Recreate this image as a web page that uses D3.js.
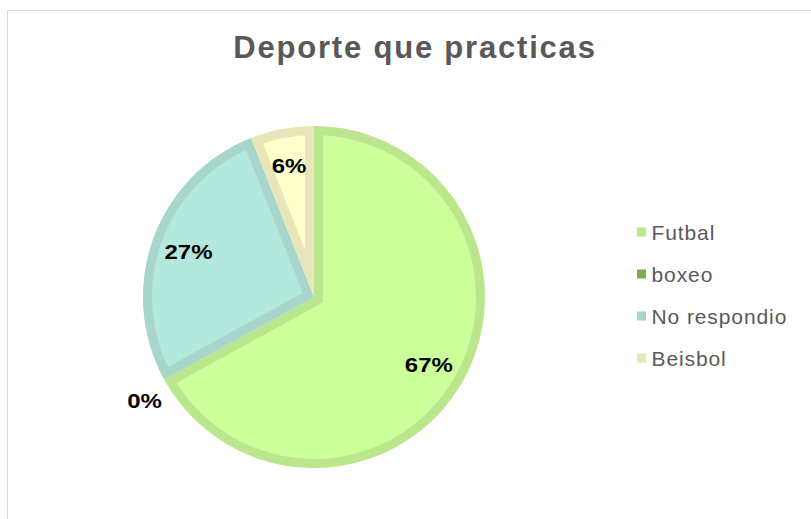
<!DOCTYPE html>
<html>
<head>
<meta charset="utf-8">
<script src="https://cdn.jsdelivr.net/npm/d3@7"></script>
<style>
  html, body { margin: 0; padding: 0; background: #fff; }
  svg { display: block; }
</style>
</head>
<body>
<svg id="chart" width="811" height="519"></svg>
<script>
// Survey results: sport practised
const categories = ["Futbal", "boxeo", "No respondio", "Beisbol"];
const values = [67, 0, 27, 6];
const fills = ["#CCFF99", "#77B050", "#B3E8DC", "#FFFFCC"];
const strokes = ["#BCE68E", "#77B050", "#A8D6CC", "#E8E6B8"];
const legendSwatch = ["#BCE68E", "#77B050", "#A8D6CC", "#E8E6B8"];

const svg = d3.select("#chart");
const W = 811, H = 519;
const FONT = "Liberation Sans, Arial, sans-serif";

// chart frame
svg.append("rect")
  .attr("x", 7.5).attr("y", 10.5)
  .attr("width", W + 10).attr("height", H + 10)
  .attr("fill", "#fff").attr("stroke", "#D9D9D9").attr("stroke-width", 1);

// title
svg.append("text")
  .attr("x", 415).attr("y", 47)
  .attr("text-anchor", "middle")
  .attr("dominant-baseline", "central")
  .attr("font-family", FONT)
  .attr("font-weight", "bold")
  .attr("font-size", 31)
  .attr("letter-spacing", 1.8)
  .attr("fill", "#595959")
  .text("Deporte que practicas");

const cx = 314, cy = 297, R = 171, border = 9;

const data = categories.map((c, i) => ({ name: c, value: values[i], i }));
const pie = d3.pie().value(d => d.value).sort(null);
const arcs = pie(data);
const arc = d3.arc().innerRadius(0).outerRadius(R);

const g = svg.append("g").attr("transform", `translate(${cx},${cy})`);
const defs = svg.append("defs");

arcs.forEach((a, k) => {
  if (a.data.value === 0) return;
  const path = arc(a);
  defs.append("clipPath").attr("id", "clip" + k)
    .append("path").attr("d", path);
  g.append("path")
    .attr("d", path)
    .attr("fill", fills[a.data.i])
    .attr("stroke", strokes[a.data.i])
    .attr("stroke-width", border * 2)
    .attr("stroke-linejoin", "miter")
    .attr("clip-path", `url(#clip${k})`);
});

// value labels: inside for non-empty slices, just outside for empty ones
const labelArc = d3.arc().innerRadius(R * 0.78).outerRadius(R * 0.78);
const outerArc = d3.arc().innerRadius(R + 28).outerRadius(R + 28);
arcs.forEach(a => {
  const inside = a.data.value > 0;
  let [lx, ly] = inside ? labelArc.centroid(a) : outerArc.centroid(a);
  if (!inside) { lx += 5; ly += 8; }
  g.append("text")
    .attr("transform", `translate(${lx},${ly}) scale(1.2,1)`)
    .attr("text-anchor", "middle")
    .attr("dominant-baseline", "central")
    .attr("font-family", FONT)
    .attr("font-weight", "bold")
    .attr("font-size", 20)
    .attr("fill", "#000")
    .text(a.data.value + "%");
});

// legend
const leg = svg.append("g").attr("transform", "translate(637,232)");
categories.forEach((c, i) => {
  const row = leg.append("g").attr("transform", `translate(0,${i * 42})`);
  row.append("rect")
    .attr("x", 0).attr("y", -4.5)
    .attr("width", 9).attr("height", 9)
    .attr("fill", legendSwatch[i]);
  row.append("text")
    .attr("x", 14.5).attr("y", 0)
    .attr("dominant-baseline", "central")
    .attr("font-family", FONT)
    .attr("font-size", 21)
    .attr("letter-spacing", 0.9)
    .attr("fill", "#595959")
    .text(c);
});
</script>
</body>
</html>
